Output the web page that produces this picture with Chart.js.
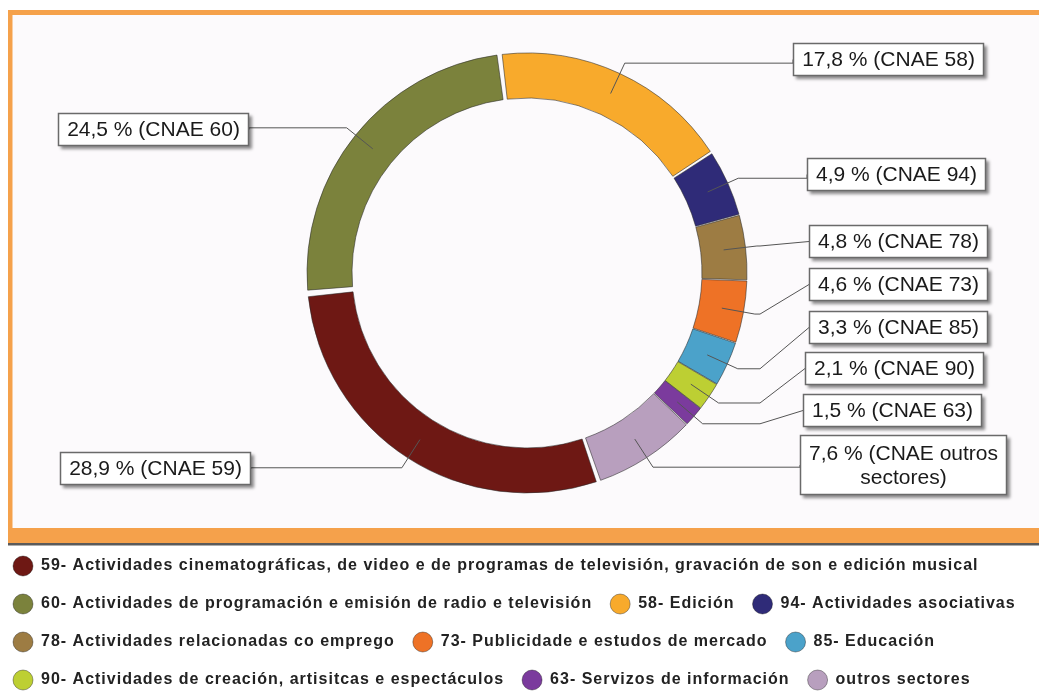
<!DOCTYPE html>
<html>
<head>
<meta charset="utf-8">
<script src="https://cdn.jsdelivr.net/npm/chart.js@4"></script>
<style>
  html, body { margin: 0; padding: 0; background: #ffffff; }
  #wrap { width: 1039px; height: 697px; }
</style>
</head>
<body>
<div id="wrap"><canvas id="cnae-chart" width="1039" height="697"></canvas></div>
<script>
// Sectores CNAE (orde das agullas do reloxo, empezando polo 59)
const categories = [
  '59- Actividades cinematográficas, de video e de programas de televisión, gravación de son e edición musical',
  '60- Actividades de programación e emisión de radio e televisión',
  '58- Edición',
  '94- Actividades asociativas',
  '78- Actividades relacionadas co emprego',
  '73- Publicidade e estudos de mercado',
  '85- Educación',
  '90- Actividades de creación, artisitcas e espectáculos',
  '63- Servizos de información',
  'outros sectores'
];
const cnaeCodes = ['59', '60', '58', '94', '78', '73', '85', '90', '63', 'outros sectores'];
const shares = [28.9, 24.5, 17.8, 4.9, 4.8, 4.6, 3.3, 2.1, 1.5, 7.6];

const sectorColors = [
  '#6e1814', '#7b823c', '#f8aa2c', '#2f2b78', '#9d7c43',
  '#ee7226', '#4ba2ca', '#bdcf33', '#7b3b9d', '#b89fbe'
];

// Posición das etiquetas (caixa) e do cóbado das liñas guía
const labelBoxX = [60, 58, 793, 807, 809, 809, 809, 805, 803, 800];
const labelBoxY = [452, 113, 43, 158, 225, 268, 311, 352, 394, 435];
const labelSide = ['left', 'left', 'right', 'right', 'right', 'right', 'right', 'right', 'right', 'right'];
const labelKneeX = [null, null, null, null, 760, 760, 760, 760, 760, null];

const labelFont = '21px "Liberation Sans", Arial, sans-serif';

// Espazado das letras da lenda (o canvas pérdeo ao redimensionar)
const spacingPlugin = {
  id: 'letterSpacing',
  beforeLayout(chart) { chart.ctx.letterSpacing = '1px'; },
  afterLayout(chart) {
    // a lenda comeza máis á esquerda ca área do gráfico
    chart.legend.left -= 20;
    chart.legend.right -= 20;
  },
  beforeDraw(chart) { chart.ctx.letterSpacing = '1px'; }
};

// Marco laranxa de fondo
const framePlugin = {
  id: 'frame',
  beforeDraw(chart) {
    const c = chart.ctx;
    c.save();
    c.fillStyle = '#ffffff';
    c.fillRect(0, 0, chart.width, chart.height);
    c.fillStyle = '#fcfafc';
    c.fillRect(10, 13, chart.width - 10, 517);
    c.fillStyle = '#f5a14b';
    c.fillRect(8, 10, chart.width - 8, 5);
    c.fillRect(8, 10, 4.5, 520);
    c.fillRect(8, 528, chart.width - 8, 15);
    c.fillStyle = '#5a5a5a';
    c.fillRect(8, 543, chart.width - 8, 2.5);
    c.restore();
  }
};

function formatShare(v) {
  return v.toFixed(1).replace('.', ',');
}

// Etiquetas con caixa e liña guía
const calloutPlugin = {
  id: 'callouts',
  afterDraw(chart) {
    const c = chart.ctx;
    const arcs = chart.getDatasetMeta(0).data;
    c.save();
    c.letterSpacing = '0px';
    c.font = labelFont;
    arcs.forEach((arc, i) => {
      const p = arc.getProps(['x', 'y', 'startAngle', 'endAngle', 'innerRadius', 'outerRadius'], true);
      const mid = (p.startAngle + p.endAngle) / 2;
      const rIn = (p.innerRadius + p.outerRadius) / 2 + 4;
      const rOut = p.outerRadius + 15;
      const sx = p.x + Math.cos(mid) * rIn, sy = p.y + Math.sin(mid) * rIn;
      const ex = p.x + Math.cos(mid) * rOut, ey = p.y + Math.sin(mid) * rOut;

      // texto e tamaño da caixa
      const full = formatShare(shares[i]) + ' % (CNAE ' + cnaeCodes[i] + ')';
      let lines = [full];
      if (c.measureText(full).width > 200) {
        const cut = full.lastIndexOf(' ');
        lines = [full.slice(0, cut), full.slice(cut + 1)];
      }
      const tw = Math.max(...lines.map(l => c.measureText(l).width));
      const bw = Math.round(tw + 18);
      const bh = lines.length > 1 ? 60 : 33;
      const bx = labelBoxX[i], by = labelBoxY[i];
      const ax = labelSide[i] === 'left' ? bx + bw : bx;
      const ay = by + bh / 2;
      const kx = labelKneeX[i] !== null ? labelKneeX[i] : ax;

      // liña guía
      c.strokeStyle = '#555555';
      c.lineWidth = 1;
      c.beginPath();
      c.moveTo(sx, sy);
      c.lineTo(ex, ey);
      c.lineTo(kx, ey);
      c.lineTo(ax, ay);
      c.stroke();

      // caixa con sombra
      c.save();
      c.shadowColor = 'rgba(0,0,0,0.45)';
      c.shadowBlur = 3;
      c.shadowOffsetX = 3;
      c.shadowOffsetY = 3;
      c.fillStyle = '#ffffff';
      c.fillRect(bx, by, bw, bh);
      c.restore();
      c.strokeStyle = '#6a6a6a';
      c.lineWidth = 1.5;
      c.strokeRect(bx + 0.5, by + 0.5, bw - 1, bh - 1);

      c.fillStyle = '#1a1a1a';
      c.textAlign = 'center';
      c.textBaseline = 'middle';
      const lh = 24;
      lines.forEach((l, k) => {
        c.fillText(l, bx + bw / 2, ay + (k - (lines.length - 1) / 2) * lh + 1);
      });
    });
    c.restore();
  }
};

const ctx = document.getElementById('cnae-chart').getContext('2d');
const chart = new Chart(ctx, {
  type: 'doughnut',
  data: {
    labels: categories,
    datasets: [{
      data: shares,
      backgroundColor: sectorColors,
      borderColor: 'rgba(40,40,40,0.55)',
      borderWidth: 1,
      spacing: 7
    }]
  },
  options: {
    responsive: false,
    animation: false,
    rotation: 160.7,
    radius: 216.5,
    cutout: '79.2%',
    layout: {
      padding: { left: 15, right: -25, top: 8, bottom: -3 }
    },
    plugins: {
      tooltip: { enabled: false },
      legend: {
        position: 'bottom',
        align: 'start',
        labels: {
          boxWidth: 20,
          boxHeight: 20,
          padding: 18,
          color: '#222222',
          font: { family: '"Liberation Sans", Arial, sans-serif', size: 16, weight: 'bold' },
          generateLabels(ch) {
            const ds = ch.data.datasets[0];
            return ch.data.labels.map((text, i) => ({
              text,
              fillStyle: ds.backgroundColor[i],
              strokeStyle: 'rgba(0,0,0,0.35)',
              lineWidth: 1,
              borderRadius: 10,
              fontColor: '#222222',
              hidden: !ch.getDataVisibility(i),
              index: i
            }));
          }
        }
      }
    }
  },
  plugins: [spacingPlugin, framePlugin, calloutPlugin]
});
</script>
</body>
</html>
